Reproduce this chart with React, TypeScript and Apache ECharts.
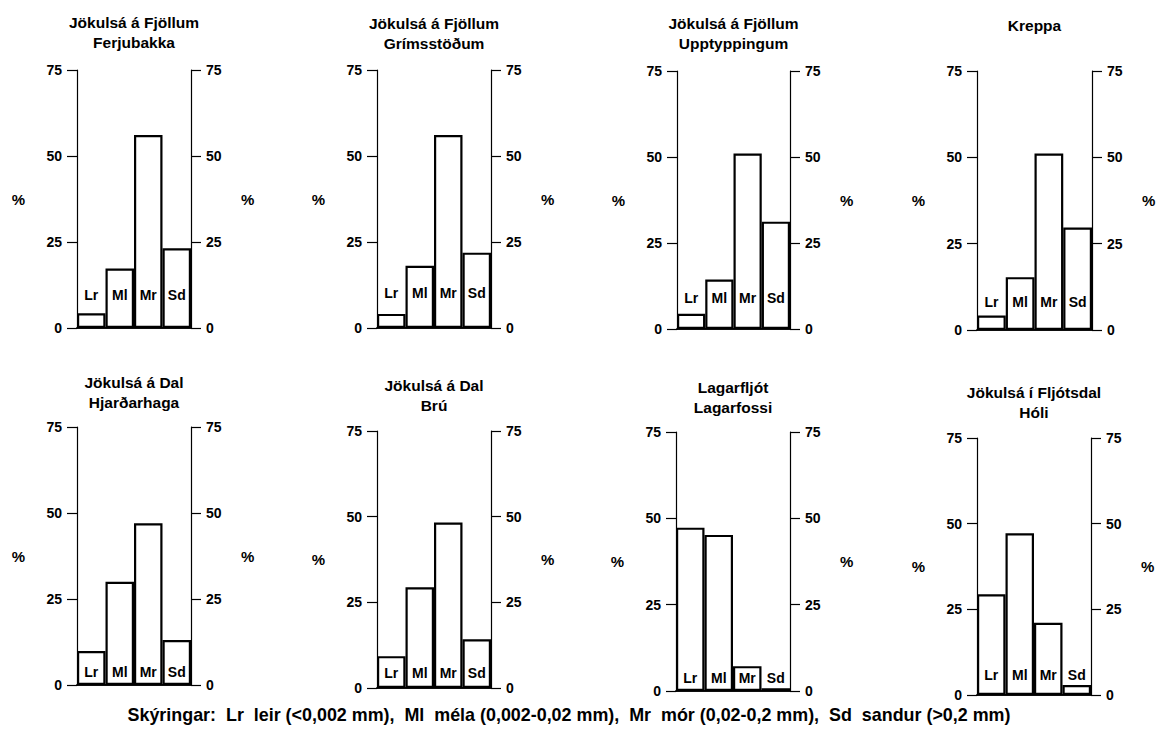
import React, { useEffect, useRef } from 'react';
import * as echarts from 'echarts';

// ---- data ----
const categories = ['Lr', 'Ml', 'Mr', 'Sd'];
const yMin = 0;
const yMax = 75;
const yInterval = 25;

const titles = [
  'Jökulsá á Fjöllum\nFerjubakka',
  'Jökulsá á Fjöllum\nGrímsstöðum',
  'Jökulsá á Fjöllum\nUpptyppingum',
  'Kreppa',
  'Jökulsá á Dal\nHjarðarhaga',
  'Jökulsá á Dal\nBrú',
  'Lagarfljót\nLagarfossi',
  'Jökulsá í Fljótsdal\nHóli',
];

const ferjubakka = [4.3, 17.3, 56.1, 23.2];
const grimsstodum = [4.1, 18.1, 56.1, 21.9];
const upptyppingum = [4.4, 14.4, 51.0, 31.2];
const kreppa = [4.2, 15.3, 51.1, 29.7];
const hjardarhaga = [9.9, 30.0, 47.0, 13.1];
const bru = [9.3, 29.4, 48.3, 14.2];
const lagarfossi = [47.3, 45.2, 7.2, 0.8];
const holi = [29.4, 47.2, 21.1, 2.9];

const panelValues = [ferjubakka, grimsstodum, upptyppingum, kreppa, hjardarhaga, bru, lagarfossi, holi];

const legendText =
  'Skýringar:  Lr  leir (<0,002 mm),  Ml  méla (0,002-0,02 mm),  Mr  mór (0,02-0,2 mm),  Sd  sandur (>0,2 mm)';

// ---- layout (pixels) ----
const layout = [
  { l: 77, r: 191, t: 70, b: 328, titleTop: 12, labelAt: 9.6 },
  { l: 377, r: 491, t: 70, b: 328, titleTop: 13, labelAt: 10.2 },
  { l: 677, r: 790, t: 71, b: 329, titleTop: 13, labelAt: 9.0 },
  { l: 977, r: 1092, t: 71, b: 330, titleTop: 15, labelAt: 8.1 },
  { l: 77, r: 191, t: 427, b: 685, titleTop: 372, labelAt: 3.8 },
  { l: 377, r: 491, t: 431, b: 688, titleTop: 375, labelAt: 4.4 },
  { l: 676, r: 790, t: 432, b: 691, titleTop: 377, labelAt: 3.8 },
  { l: 977, r: 1091, t: 438, b: 695, titleTop: 382, labelAt: 5.8 },
];

const FONT = '"Liberation Sans", Arial, Helvetica, sans-serif';

function buildOption() {
  const grid: any[] = [];
  const xAxis: any[] = [];
  const yAxis: any[] = [];
  const series: any[] = [];
  const title: any[] = [];

  const lineStyle = { color: '#000', width: 1.2 };
  const tickLabel = { fontFamily: FONT, fontWeight: 'bold', fontSize: 14, color: '#000' };

  layout.forEach((p, i) => {
    grid.push({ left: p.l, top: p.t, width: p.r - p.l, height: p.b - p.t });
    ['bottom', 'top'].forEach((pos) => {
      xAxis.push({
        gridIndex: i,
        type: 'category',
        data: categories,
        position: pos,
        axisLine: { show: true, lineStyle: { color: '#000', width: 1.5 } },
        axisTick: { show: false },
        axisLabel: { show: false },
        splitLine: { show: false },
      });
    });
    ['left', 'right'].forEach((pos) => {
      yAxis.push({
        gridIndex: i,
        type: 'value',
        position: pos,
        min: yMin,
        max: yMax,
        interval: yInterval,
        axisLine: { show: true, lineStyle },
        axisTick: { show: true, length: 10, lineStyle },
        axisLabel: { ...tickLabel, margin: 15 },
        splitLine: { show: false },
        name: '%',
        nameLocation: 'middle',
        nameRotate: 0,
        nameGap: pos === 'left' ? 52 : 50,
        nameTextStyle: { fontFamily: FONT, fontWeight: 'bold', fontSize: 15, color: '#000' },
      });
    });
    series.push({
      type: 'bar',
      xAxisIndex: i * 2,
      yAxisIndex: i * 2,
      data: panelValues[i],
      barWidth: '100%',
      barCategoryGap: 0,
      itemStyle: { color: '#fff', borderColor: '#000', borderWidth: 2.2 },
      silent: true,
      z: 2,
    });
    series.push({
      type: 'scatter',
      xAxisIndex: i * 2,
      yAxisIndex: i * 2,
      symbolSize: 0,
      itemStyle: { color: '#000', opacity: 1 },
      data: categories.map((c) => ({ name: c, value: [c, p.labelAt] })),
      label: {
        show: true,
        position: 'inside',
        formatter: '{b}',
        fontFamily: FONT,
        fontWeight: 'bold',
        fontSize: 14,
        color: '#000',
        opacity: 1,
      },
      silent: true,
      z: 5,
    });
    title.push({
      text: titles[i],
      left: (p.l + p.r) / 2,
      top: p.titleTop,
      textAlign: 'center',
      padding: 0,
      textStyle: { fontFamily: FONT, fontWeight: 'bold', fontSize: 15.5, color: '#000', lineHeight: 20 },
    });
  });

  title.push({
    text: legendText,
    left: 569,
    top: 704,
    textAlign: 'center',
    padding: 0,
    textStyle: { fontFamily: FONT, fontWeight: 'bold', fontSize: 17.9, color: '#000', lineHeight: 22 },
  });

  return {
    animation: false,
    backgroundColor: '#fff',
    title,
    grid,
    xAxis,
    yAxis,
    series,
  };
}

export default function App() {
  const ref = useRef<HTMLDivElement>(null);
  useEffect(() => {
    if (!ref.current) return;
    const chart = echarts.init(ref.current, undefined, { renderer: 'svg' });
    chart.setOption(buildOption() as any);
    return () => chart.dispose();
  }, []);
  return (
    <div
      ref={ref}
      style={{ position: 'fixed', left: 0, top: 0, width: 1158, height: 733, background: '#fff' }}
    />
  );
}
